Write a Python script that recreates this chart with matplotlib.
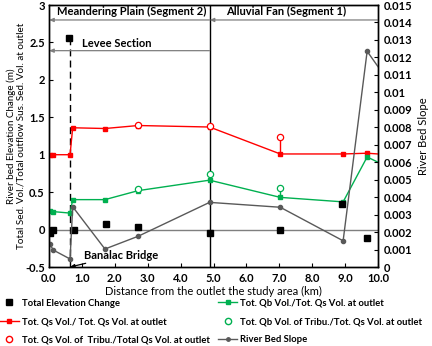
import matplotlib
matplotlib.use("Agg")
from matplotlib import pyplot as plt
from matplotlib.ticker import FuncFormatter, MultipleLocator
from matplotlib.lines import Line2D

plt.rcParams["font.family"] = ["Lato", "DejaVu Sans"]
plt.rcParams["font.weight"] = "bold"
plt.rcParams["font.size"] = 7.5

# total elevation change (m)
x_elev = [0.03, 0.13, 0.62, 0.76, 1.73, 2.71, 4.90, 7.03, 8.92, 9.68]
elev = [-0.04, 0.00, 2.56, -0.01, 0.07, 0.04, -0.04, -0.01, 0.34, -0.11]

# stations along the river (km from outlet)
x_sta = [0.03, 0.13, 0.64, 0.72, 1.70, 2.71, 4.88, 7.03, 8.94, 9.67, 10.0]
qs_ratio = [1.00, 1.00, 1.00, 1.36, 1.35, 1.39, 1.37, 1.01, 1.01, 1.02, 1.01]
qb_ratio = [0.25, 0.24, 0.22, 0.40, 0.40, 0.52, 0.66, 0.43, 0.37, 0.97, 0.90]
bed_slope = [0.0013, 0.00097, 0.00046, 0.00345, 0.00103, 0.00176, 0.0037,
             0.00342, 0.0015, 0.01235, 0.01147]

# tributary inputs
x_trib = [2.71, 4.88, 7.03]
qs_trib = [1.40, 1.39, 1.24]
qb_trib = [0.54, 0.74, 0.56]
trib_idx = [5, 6, 7]

bridge_x = 0.64
seg_x = 4.88

red = "#ff0000"
green = "#00b050"
gray = "#595959"

fig = plt.figure(figsize=(4.32, 3.46), dpi=100)
ax = fig.add_axes([49 / 432, 1 - 267 / 346, 329 / 432, 262 / 346])
ax2 = ax.twinx()

ax.set_xlim(0, 10)
ax.set_ylim(-0.5, 3)
ax2.set_ylim(0, 0.015)

ax.axhline(0, color="#7f7f7f", lw=1, zorder=1)
ax.axvline(seg_x, color="black", lw=1, zorder=1)
ax.plot([bridge_x, bridge_x], [-0.5, elev[2]], color="black", lw=1, ls=(0, (5, 3)), zorder=1)

# tributary stems
ax.vlines(x_trib, [qs_ratio[i] for i in trib_idx], qs_trib, color=red, lw=1)
ax.vlines(x_trib, [qb_ratio[i] for i in trib_idx], qb_trib, color=green, lw=1)

ax.plot(x_elev, elev, "s", color="black", ms=5, zorder=5)
ax.plot(x_sta, qs_ratio, "-s", color=red, lw=1, ms=3.5, markevery=slice(0, -1), zorder=4)
ax.plot(x_sta, qb_ratio, "-s", color=green, lw=1, ms=3.5, markevery=slice(0, -1), zorder=4)
ax.plot(x_trib, qs_trib, "o", mfc="white", mec=red, ms=4.5, mew=0.9, zorder=4)
ax.plot(x_trib, qb_trib, "o", mfc="white", mec=green, ms=4.5, mew=0.9, zorder=4)
ax2.plot(x_sta, bed_slope, "-o", color=gray, lw=1, ms=3, markevery=slice(0, -1))

# segment arrows and annotations
arr = dict(arrowstyle="-|>,head_length=0.35,head_width=0.15", color="#7f7f7f", lw=0.9,
           shrinkA=0, shrinkB=0)
ax.annotate("", xy=(0, 2.8), xytext=(seg_x, 2.8), arrowprops=arr)
ax.annotate("", xy=(seg_x, 2.8), xytext=(10, 2.8), arrowprops=arr)
ax.annotate("", xy=(0, 2.39), xytext=(seg_x, 2.39), arrowprops=arr)
ax.text(2.5, 2.91, "Meandering Plain (Segment 2)", ha="center", va="center", fontsize=8)
ax.text(7.2, 2.91, "Alluvial Fan (Segment 1)", ha="center", va="center", fontsize=8)
ax.text(1.0, 2.49, "Levee Section", ha="left", va="center", fontsize=8)
ax.annotate("Banalac Bridge", xy=(bridge_x, -0.5), xytext=(1.05, -0.34),
            ha="left", va="center", fontsize=8,
            arrowprops=dict(arrowstyle="-|>,head_length=0.3,head_width=0.12",
                            color="black", lw=0.9, shrinkA=0, shrinkB=0))

ax.xaxis.set_major_locator(MultipleLocator(1))
ax.xaxis.set_major_formatter(FuncFormatter(lambda v, p: f"{v:.1f}"))
ax.yaxis.set_major_locator(MultipleLocator(0.5))
ax.yaxis.set_major_formatter(FuncFormatter(lambda v, p: f"{v:g}"))
ax2.yaxis.set_major_locator(MultipleLocator(0.001))
ax2.yaxis.set_major_formatter(FuncFormatter(lambda v, p: f"{v:g}"))
for a in (ax, ax2):
    a.tick_params(direction="in", length=3, width=0.8, labelsize=8, pad=4)
    for s in a.spines.values():
        s.set_linewidth(1)
ax.tick_params(axis="y", pad=3)

ax.set_xlabel("Distance from the outlet the study area (km)", fontsize=8, labelpad=2)
ax.set_ylabel("River bed Elevation Change (m)\nTotal Sed. Vol./Total outflow Sus. Sed. Vol. at outlet",
              fontsize=7.1, linespacing=1.2)
ax.yaxis.set_label_coords(-0.07, 0.5)
ax2.set_ylabel("River Bed Slope", fontsize=8, labelpad=4)

handles = [
    Line2D([], [], ls="none", marker="s", color="black", ms=4),
    Line2D([], [], color=red, marker="s", ms=3, lw=1),
    Line2D([], [], ls="none", marker="o", mfc="white", mec=red, ms=4.5),
    Line2D([], [], color=green, marker="s", ms=3, lw=1),
    Line2D([], [], ls="none", marker="o", mfc="white", mec=green, ms=4.5),
    Line2D([], [], color=gray, marker="o", ms=2.5, lw=1),
]
labels = [
    "Total Elevation Change",
    "Tot. Qs Vol./ Tot. Qs Vol. at outlet",
    "Tot. Qs Vol. of  Tribu./Total Qs Vol. at outlet",
    "Tot. Qb Vol./Tot. Qs Vol. at outlet",
    "Tot. Qb Vol. of Tribu./Tot. Qs Vol. at outlet",
    "River Bed Slope",
]
fig.legend(handles, labels, ncol=2, loc="upper left", bbox_to_anchor=(0.0, 0.137),
           frameon=False, fontsize=6.8, handlelength=2.0, handletextpad=0.3,
           columnspacing=0.9, labelspacing=1.0, borderpad=0, borderaxespad=0)

fig.savefig("out.png", dpi=100)
